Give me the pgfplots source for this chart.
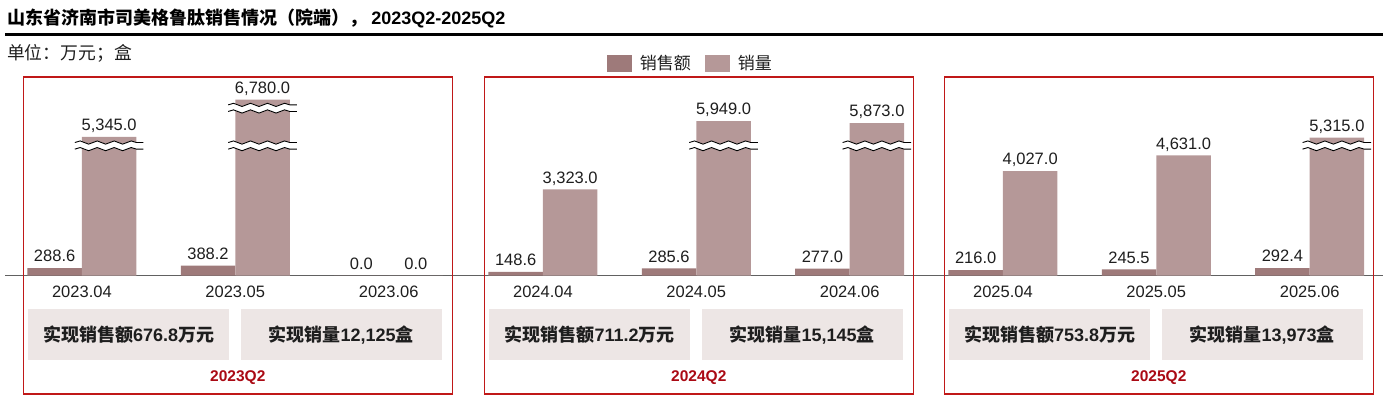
\documentclass[border=0pt]{standalone}
\usepackage{fontspec}
\usepackage{pgfplots}
\usepackage{pgfplotstable}
\pgfplotsset{compat=1.18}
\usetikzlibrary{decorations.pathmorphing}
\setmainfont{Liberation Sans}
\newfontfamily\cjk{Noto Sans CJK SC}
\definecolor{salesc}{RGB}{158,122,122}
\definecolor{volc}{RGB}{181,152,152}
\definecolor{boxc}{RGB}{237,230,229}
\definecolor{framec}{RGB}{192,24,24}
\definecolor{qc}{RGB}{170,10,20}
\definecolor{txt}{RGB}{30,30,30}
\newcommand\fs[1]{\fontsize{#1}{#1}\selectfont}

\pgfplotstableread{
x s v
0 288.6 5345
1 388.2 6780
2 0 0
}\tA
\pgfplotstableread{
x s v
0 148.6 3323
1 285.6 5949
2 277.0 5873
}\tB
\pgfplotstableread{
x s v
0 216.0 4027
1 245.5 4631
2 292.4 5315
}\tC

\pgfplotsset{
  panel/.style={
    width=429pt, height=187pt, scale only axis,
    xmin=-0.382, xmax=2.415, ymin=0, ymax=7200,
    ybar=0pt, bar width=54.5pt,
    axis x line=bottom, axis y line=none,
    axis line style={draw=none},
    major tick length=0pt,
    xtick={0,1,2}, ytick=\empty,
    xticklabel style={font={\fs{16.5pt}}, inner sep=0pt, yshift=-10pt, text depth=0pt, color=txt},
    nodes near coords,
    /pgf/number format/fixed, /pgf/number format/fixed zerofill,
    /pgf/number format/precision=1, /pgf/number format/1000 sep={,},
    /pgf/number format/assume math mode=true,
    every node near coord/.append style={font={\fs{16.5pt}}, inner sep=0pt, anchor=south, yshift=6pt, text depth=0pt, color=txt},
    clip=false,
  },
  sw/.style={legend image code/.code={\path[##1, draw=none] (0pt,-8.5pt) rectangle (25pt,8.5pt);}},
}
\newcommand\brk[2]{%
  \draw[white, line width=6.6pt, decorate, decoration={snake, amplitude=1.6pt, segment length=17pt}] (axis cs:#1,#2) -- (axis cs:#1+0.447,#2);
  \draw[black, line width=0.9pt, yshift=3.3pt, decorate, decoration={snake, amplitude=1.6pt, segment length=17pt}] (axis cs:#1,#2) -- (axis cs:#1+0.447,#2);
  \draw[black, line width=0.9pt, yshift=-3.3pt, decorate, decoration={snake, amplitude=1.6pt, segment length=17pt}] (axis cs:#1,#2) -- (axis cs:#1+0.447,#2);
}

\begin{document}
\begin{tikzpicture}
\path[use as bounding box] (0pt,0pt) rectangle (1383pt,398pt);
% title
\node[anchor=west, inner sep=0pt] at (7pt,380pt) {\cjk\bfseries\fs{18pt}山东省济南市司美格鲁肽销售情况（院端）， {\rmfamily\bfseries 2023Q2-2025Q2}};
\draw[black, line width=2.7pt] (5pt,363.3pt) -- (1383pt,363.3pt);
\node[anchor=west, inner sep=0pt, color=txt] at (7pt,345pt) {\cjk\fs{17.8pt}单位：万元；盒};
% baseline
\draw[black!62, line width=1.5pt] (5pt,122.3pt) -- (1383pt,122.3pt);

% panel 1
\begin{axis}[panel, at={(23.3pt,122.3pt)}, anchor=south west,
  xticklabels={2023.04,2023.05,2023.06}]
\addplot[fill=salesc, draw=none] table[x=x, y=s] {\tA};
\addplot[fill=volc, draw=none] table[x=x, y=v] {\tA};
\brk{-0.046}{5000}
\brk{0.954}{5000}
\brk{0.954}{6450}
\end{axis}

% panel 2
\begin{axis}[panel, at={(484.3pt,122.3pt)}, anchor=south west,
  xticklabels={2024.04,2024.05,2024.06},
  legend columns=2,
  legend style={at={(0.478,1.137)}, anchor=center, draw=none, fill=none, inner sep=0pt,
    font={\cjk\fs{17pt}}, text=txt,
    nodes={inner sep=0pt},
    /tikz/every odd column/.append style={column sep=8pt},
    /tikz/every even column/.append style={column sep=14pt}}]
\addplot[fill=salesc, draw=none, sw] table[x=x, y=s] {\tB};
\addplot[fill=volc, draw=none, sw] table[x=x, y=v] {\tB};
\legend{销售额,销量}
\brk{0.954}{5000}
\brk{1.954}{5000}
\end{axis}

% panel 3
\begin{axis}[panel, at={(944.3pt,122.3pt)}, anchor=south west,
  xticklabels={2025.04,2025.05,2025.06}]
\addplot[fill=salesc, draw=none] table[x=x, y=s] {\tC};
\addplot[fill=volc, draw=none] table[x=x, y=v] {\tC};
\brk{1.954}{5000}
\end{axis}

% frames, boxes, labels
\foreach \L/\A/\B/\Q in {23.3/676.8/{12,125}/2023Q2, 484.3/711.2/{15,145}/2024Q2, 944.3/753.8/{13,973}/2025Q2}{
  \draw[framec, line width=1.5pt] (\L pt,4pt) rectangle ({\L pt+429pt},321pt);
  \fill[boxc] ({\L pt+4.7pt},37.7pt) rectangle ({\L pt+206pt},89pt);
  \fill[boxc] ({\L pt+217.4pt},37.7pt) rectangle ({\L pt+418.4pt},89pt);
  \node[inner sep=0pt, color=txt] at ({\L pt+105.3pt},63.3pt) {\fs{18pt}\bfseries{\cjk 实现销售额}\A{\cjk 万元}};
  \node[inner sep=0pt, color=txt] at ({\L pt+317.9pt},63.3pt) {\fs{18pt}\bfseries{\cjk 实现销量}\B{\cjk 盒}};
  \node[inner sep=0pt, color=qc] at ({\L pt+214.5pt},20pt) {\fs{15.5pt}\bfseries \Q};
}
\end{tikzpicture}
\end{document}
